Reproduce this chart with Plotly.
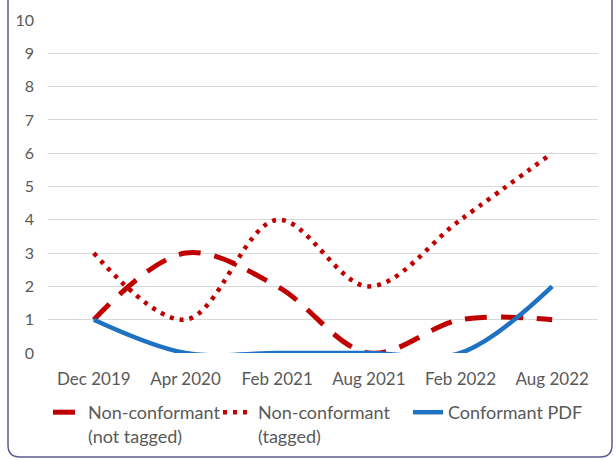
import plotly.graph_objects as go

categories = ["Dec 2019", "Apr 2020", "Feb 2021", "Aug 2021", "Feb 2022", "Aug 2022"]
not_tagged = [1, 3, 2, 0, 1, 1]
tagged = [3, 1, 4, 2, 4, 6]
conformant = [1, 0, 0, 0, 0, 2]
y_ticks = list(range(0, 11))

W, H = 616, 460
RED = "#C00000"
BLUE = "#1F72C2"
TXT = "#595959"
FONT = "Lato, 'Open Sans', sans-serif"

fig = go.Figure()
fig.add_trace(go.Scatter(
    x=categories, y=not_tagged, mode="lines",
    name="Non-conformant<br>(not tagged)", legend="legend",
    line=dict(color=RED, width=5, dash="22px,14px", shape="spline", smoothing=1.0),
))
fig.add_trace(go.Scatter(
    x=categories, y=tagged, mode="lines",
    name="Non-conformant<br>(tagged)", legend="legend2",
    line=dict(color=RED, width=4.5, dash="4px,6px", shape="spline", smoothing=1.0),
))
fig.add_trace(go.Scatter(
    x=categories, y=conformant, mode="lines",
    name="Conformant PDF", legend="legend3",
    line=dict(color=BLUE, width=4.5, shape="spline", smoothing=1.0),
))

def px(x):
    return x / W

def py(y):
    return 1 - y / H

# rounded border (top edge cut off)
r = 12
path = (
    f"M {px(8)} {py(-5)} L {px(8)} {py(457 - r)} "
    f"Q {px(8)} {py(457)} {px(8 + r)} {py(457)} "
    f"L {px(612 - r)} {py(457)} "
    f"Q {px(612)} {py(457)} {px(612)} {py(457 - r)} "
    f"L {px(612)} {py(-5)}"
)
fig.add_shape(type="path", path=path, xref="paper", yref="paper",
              line=dict(color="#5c5c90", width=1.5), layer="above")

def legend_at(x_px, y_px):
    return dict(
        orientation="h", x=px(x_px), xanchor="left", y=py(y_px), yanchor="top",
        font=dict(family=FONT, size=18, color=TXT),
        valign="top", itemwidth=30, bgcolor="rgba(0,0,0,0)",
    )

fig.update_layout(
    width=W, height=H,
    margin=dict(l=0, r=0, t=0, b=0, autoexpand=False),
    paper_bgcolor="white", plot_bgcolor="white",
    font=dict(family=FONT, color=TXT, size=16),
    showlegend=True,
    legend=legend_at(48, 394),
    legend2=legend_at(218, 394),
    legend3=legend_at(408, 394),
    xaxis=dict(
        domain=[px(48), px(598)], range=[-0.5, 5.5], automargin=False,
        type="category", showgrid=False, zeroline=False, showline=False,
        ticks="", ticklabelstandoff=14,
        tickfont=dict(family=FONT, size=17, color=TXT),
    ),
    yaxis=dict(
        domain=[py(353), py(20)], range=[0, 10], automargin=False,
        tickvals=y_ticks, showgrid=True, gridcolor="#D9D9D9", gridwidth=1,
        zeroline=False, showline=False, ticks="", ticklabelstandoff=13,
        tickfont=dict(family=FONT, size=16, color=TXT),
    ),
)

fig.write_html(
    "out.html",
    config={"displayModeBar": False},
    post_script="document.body.style.margin='0px';document.body.style.overflow='hidden';",
)
